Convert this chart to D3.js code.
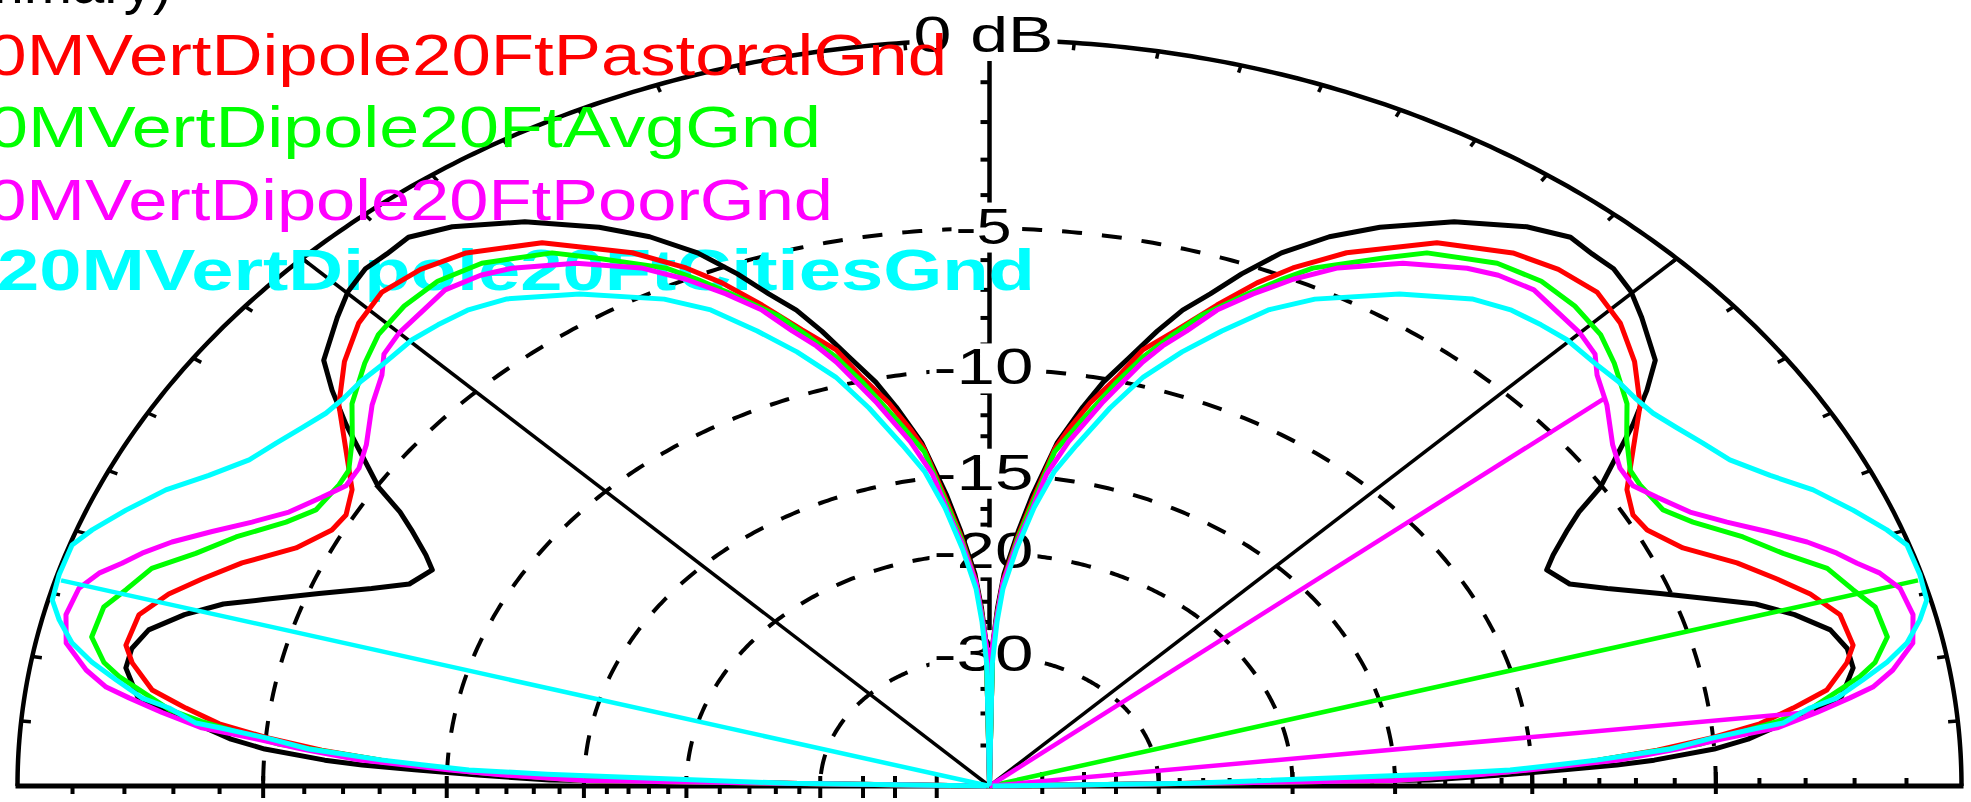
<!DOCTYPE html>
<html><head><meta charset="utf-8">
<script src="https://cdn.jsdelivr.net/npm/d3@7"></script>
<style>
html,body{margin:0;padding:0;background:#fff;overflow:hidden}
svg{display:block;background:#fff}
</style></head><body>
<svg id="chart" width="1971" height="802"></svg>
<script>
// ---------- DATA (elevation angle in degrees, gain in dB; half pattern 0..90, antenna is omnidirectional) ----------
const summaryTitle = "(Summary)";
const seriesNames = ["20MVertDipole20FtPastoralGnd","20MVertDipole20FtAvgGnd","20MVertDipole20FtPoorGnd","20MVertDipole20FtCitiesGnd"];

const referencePattern = [[0,-99],[1,-13.6],[1.6,-11.0],[2.1,-9.0],[2.5,-7.5],[2.9,-6.5],[3.8,-5.0],[4.6,-4.2],[7.0,-2.6],[7.8,-2.1],[10.1,-1.76],[11.8,-1.78],[13.6,-2.0],[15.5,-2.6],[17.2,-3.3],[18.5,-4.1],[20.5,-5.25],[22.6,-6.4],[24.4,-7.25],[26.8,-7.6],[28.1,-7.2],[30.0,-6.45],[31.2,-5.9],[32.5,-5.05],[34.8,-4.05],[36.2,-3.4],[38.1,-2.6],[39.8,-1.97],[43.1,-1.45],[45.1,-1.15],[47.2,-0.97],[49.0,-0.97],[50.9,-0.92],[53.6,-1.22],[57.7,-1.91],[61.8,-2.79],[64.6,-3.51],[67.2,-4.37],[69.3,-5.31],[71.0,-6.18],[72.7,-6.92],[74.2,-7.83],[75.9,-8.97],[77.8,-10.14],[79.3,-11.32],[81.4,-13.14],[83.5,-16.0],[85,-18.3],[87,-21.6],[88,-24.5],[89,-28.5],[90,-99]];

const pastoralGnd = [[0,-99],[1,-15],[2,-11],[3,-8.3],[4,-6.4],[5,-5.0],[6,-3.9],[7.2,-3.13],[7.6,-2.9],[8.5,-2.37],[10.6,-1.86],[12.0,-1.65],[14.7,-1.72],[16.95,-2.14],[18.9,-2.66],[21.25,-3.30],[24.1,-4.23],[26.9,-4.74],[28.75,-4.82],[31.2,-4.56],[34.2,-3.82],[37.35,-2.95],[40.6,-2.31],[43.7,-1.85],[46.65,-1.61],[49.8,-1.68],[53.0,-1.91],[57.7,-2.56],[62.8,-3.75],[65.8,-4.68],[67.8,-5.44],[70.05,-6.47],[72.5,-7.63],[74.9,-8.61],[76.5,-9.84],[78.6,-11.10],[80.4,-12.46],[81.5,-13.4],[83.5,-16.5],[85,-18.7],[87,-22.0],[88,-25.0],[89,-29.0],[90,-99]];

const avgGnd = [[0,-99],[1,-15],[2,-10.8],[3,-8.3],[3.7,-6.9],[4.4,-5.3],[6.1,-3.5],[6.9,-2.8],[9.3,-1.67],[10.3,-1.32],[12.2,-0.97],[14.75,-1.02],[16.5,-1.31],[18.7,-1.62],[20.9,-2.31],[23.3,-2.91],[26.05,-3.71],[28.1,-4.14],[31.1,-4.23],[32.7,-4.19],[35.3,-3.76],[38.0,-3.15],[41.4,-2.65],[43.9,-2.34],[46.9,-2.17],[50.0,-2.13],[53.3,-2.31],[57.8,-2.90],[60.2,-3.50],[64.4,-4.49],[66.05,-5.08],[68.1,-5.86],[71.0,-6.97],[72.85,-7.93],[74.65,-8.87],[76.4,-10.04],[79,-11.9],[81.5,-13.6],[83.5,-16.8],[85,-18.9],[87,-22.2],[88,-25.2],[89,-29.2],[90,-99]];

const poorGnd = [[0,-99],[1,-15],[1.7,-11.8],[2.2,-10.1],[3.1,-7.4],[4.0,-5.9],[4.8,-4.77],[5.5,-3.53],[6.6,-2.65],[7.6,-1.94],[8.3,-1.46],[9.5,-1.02],[11.4,-0.54],[13.6,-0.39],[15.8,-0.46],[17.3,-0.71],[18.5,-1.04],[19.7,-1.32],[21.25,-1.76],[23.1,-2.40],[25.0,-3.05],[27.0,-3.64],[29.4,-4.08],[31.3,-4.38],[33.3,-4.35],[35.5,-4.10],[38.8,-3.51],[41.4,-3.13],[42.9,-2.78],[45.0,-2.61],[47.75,-2.51],[49.9,-2.40],[52.6,-2.55],[54.7,-2.78],[58.75,-3.41],[62.7,-4.23],[65.3,-4.99],[67.65,-5.80],[69.85,-6.63],[71.6,-7.58],[73.2,-8.31],[74.5,-9.06],[75.8,-9.99],[77.3,-11.02],[80,-13.0],[82,-14.8],[83.5,-17.27],[85,-19.19],[87.1,-22.3],[88.05,-25.5],[89.2,-29.2],[90,-99]];

const citiesGnd = [[0,-99],[1,-27],[2,-13.5],[2.3,-10.7],[2.8,-9.2],[3.2,-8.0],[3.7,-6.9],[4.05,-6.07],[4.9,-5.08],[5.6,-3.97],[5.9,-3.39],[7.06,-2.78],[7.7,-2.20],[9.0,-1.62],[10.2,-1.09],[11.5,-0.64],[13.1,-0.30],[14.5,-0.07],[16.5,-0.03],[18.9,-0.04],[20.4,-0.26],[22.6,-0.66],[25.1,-1.14],[27.4,-1.72],[29.85,-2.23],[32.06,-2.47],[34.15,-2.69],[36.2,-2.87],[38.06,-2.92],[40.0,-2.91],[42.1,-2.95],[45.2,-2.93],[47.45,-3.01],[49.9,-3.12],[52.75,-3.40],[57.4,-4.20],[62.85,-5.32],[65.8,-6.13],[68.6,-7.26],[71.2,-8.35],[73.9,-9.63],[76.25,-11.17],[78.9,-13.11],[81,-14.6],[83,-16.8],[85,-19.6],[87,-22.8],[88,-26],[89,-31],[90,-99]];

// cursor / marker lines from origin: series index, elevation, gain
const markerSeries = [1, 3, 2, 2];
const markerElev   = [16.1, 163.9, 39.4, 6.7];
const markerDb     = [-0.1, -0.1, -3.4, -2.7];

// grid
const ringDb     = [-5, -10, -15, -20, -30];
const ringLabels = ["-5", "-10", "-15", "-20", "-30"];
const topLabel   = "0 dB";
const radialAngles = [45, 135];
const tickDb = [-1,-2,-3,-4,-5,-6,-7,-8,-9,-10,-11,-12,-13,-14,-15,-16,-17,-18,-19,-20,-22,-24,-26,-28,-30,-35,-40,-50];
const rimTickAngles = d3.range(5, 180, 5);

// ---------- STYLE ----------
const patternColors = ["#000000", "#ff0000", "#00ff00", "#ff00ff", "#00ffff"];
const FONT = "'Liberation Sans', Arial, sans-serif";

// ---------- SCALES ----------
const cx = 989.5, cy = 786, rx = 972, ry = 746;
const svg = d3.select("#chart");
const x = d3.scaleLinear().domain([-1, 1]).range([cx - rx, cx + rx]);
const y = d3.scaleLinear().domain([0, 1]).range([cy, cy - ry]);
// ARRL log scale: radius drops by 0.89 every 2 dB
const arrl = d3.scaleLog().domain([Math.pow(0.89, 25), 1]).range([-50, 0]);
const rad = dB => arrl.invert(dB);
const toRad = a => a * Math.PI / 180;
const px = (el, dB) => x(rad(dB) * Math.cos(toRad(el)));
const py = (el, dB) => y(rad(dB) * Math.sin(toRad(el)));
const line = d3.line().x(d => px(d[0], d[1])).y(d => py(d[0], d[1]));

const gGrid = svg.append("g");
const gLab = svg.append("g");
const gLeg = svg.append("g");
const gTr = svg.append("g");

// summary title (mostly off the top of the frame)
gLeg.append("text").attr("x", 172).attr("y", 3).attr("text-anchor", "end")
  .attr("font-family", FONT).attr("font-size", 58).attr("fill", "#000").text(summaryTitle);

// ---------- GRID ----------
const arc = dB => d3.range(0, 180.001, 0.5).map(a => [a, dB]);
gGrid.append("path").attr("d", line(arc(0))).attr("fill", "none").attr("stroke", "#000").attr("stroke-width", 4.5);
ringDb.forEach(dB => {
  gGrid.append("path").attr("d", line(arc(dB))).attr("fill", "none").attr("stroke", "#000")
    .attr("stroke-width", 4).attr("stroke-dasharray", "20 20");
});
radialAngles.forEach(a => {
  gGrid.append("line").attr("x1", x(0)).attr("y1", y(0)).attr("x2", px(a, 0)).attr("y2", py(a, 0))
    .attr("stroke", "#000").attr("stroke-width", 3.5);
});
// vertical axis
gGrid.append("line").attr("x1", x(0)).attr("y1", y(0)).attr("x2", x(0)).attr("y2", y(1))
  .attr("stroke", "#000").attr("stroke-width", 4.5);
// baseline
gGrid.append("line").attr("x1", x(-1) - 2).attr("x2", x(1) + 2).attr("y1", y(0)).attr("y2", y(0))
  .attr("stroke", "#000").attr("stroke-width", 5);
// rim ticks
rimTickAngles.forEach(a => {
  const c = Math.cos(toRad(a)), s = Math.sin(toRad(a));
  gGrid.append("line").attr("x1", x(c)).attr("y1", y(s)).attr("x2", x(0.99 * c)).attr("y2", y(0.99 * s))
    .attr("stroke", "#000").attr("stroke-width", 3.5);
});
// dB ticks on baseline and vertical axis
tickDb.forEach(dB => {
  const r = rad(dB), big = dB % 5 === 0;
  gGrid.append("line").attr("x1", x(-r)).attr("x2", x(-r))
    .attr("y1", big ? y(0) - 10 : y(0)).attr("y2", y(0) + (big ? 12 : 8))
    .attr("stroke", "#000").attr("stroke-width", 4);
  gGrid.append("line").attr("x1", x(r)).attr("x2", x(r))
    .attr("y1", y(0) - (big ? 14 : 8)).attr("y2", big ? y(0) + 8 : y(0))
    .attr("stroke", "#000").attr("stroke-width", 4);
  gGrid.append("line").attr("x1", x(0) - 9).attr("x2", x(0)).attr("y1", y(r)).attr("y2", y(r))
    .attr("stroke", "#000").attr("stroke-width", 4);
});

// ---------- AXIS LABELS ----------
const labelData = [{t: topLabel, dB: 0, w: 140, dy: 12}].concat(
  ringDb.map((dB, i) => ({t: ringLabels[i], dB, w: ringLabels[i].length > 2 ? 100 : 56, dy: 15})));
labelData.forEach(d => {
  const g = gLab.append("g");
  const t = g.append("text").attr("x", x(0) - 6).attr("y", y(rad(d.dB)) + d.dy)
    .attr("text-anchor", "middle").attr("font-family", FONT).attr("font-size", 50)
    .attr("textLength", d.w).attr("lengthAdjust", "spacingAndGlyphs").attr("fill", "#000").text(d.t);
  const b = t.node().getBBox();
  g.insert("rect", "text").attr("x", b.x - 4).attr("y", b.y + 4).attr("width", b.width + 8)
    .attr("height", b.height - 6).attr("fill", "#fff");
});

// ---------- LEGEND ----------
const legX = [-52, -52, -52, -3], legY = [75, 147, 220, 290], legW = [999, 873, 885, 1038];
seriesNames.forEach((n, i) => {
  gLeg.append("text").attr("x", legX[i]).attr("y", legY[i])
    .attr("font-family", FONT).attr("font-size", 58).attr("font-weight", i === 3 ? "bold" : "normal")
    .attr("textLength", legW[i]).attr("lengthAdjust", "spacingAndGlyphs")
    .attr("fill", patternColors[i + 1]).text(n);
});

// ---------- TRACES ----------
const mirror = half => half.concat(half.slice(0, -1).reverse().map(([e, d]) => [180 - e, d]));
const patterns = [referencePattern, pastoralGnd, avgGnd, poorGnd, citiesGnd];
patterns.forEach((p, i) => {
  gTr.append("path").attr("d", line(mirror(p))).attr("fill", "none")
    .attr("stroke", patternColors[i]).attr("stroke-width", 5).attr("stroke-linejoin", "round");
  markerSeries.forEach((s, k) => {
    if (s + 1 !== i) return;
    gTr.append("line").attr("x1", x(0)).attr("y1", y(0))
      .attr("x2", px(markerElev[k], markerDb[k])).attr("y2", py(markerElev[k], markerDb[k]))
      .attr("stroke", patternColors[i]).attr("stroke-width", 4.5);
  });
});
</script>
</body></html>
